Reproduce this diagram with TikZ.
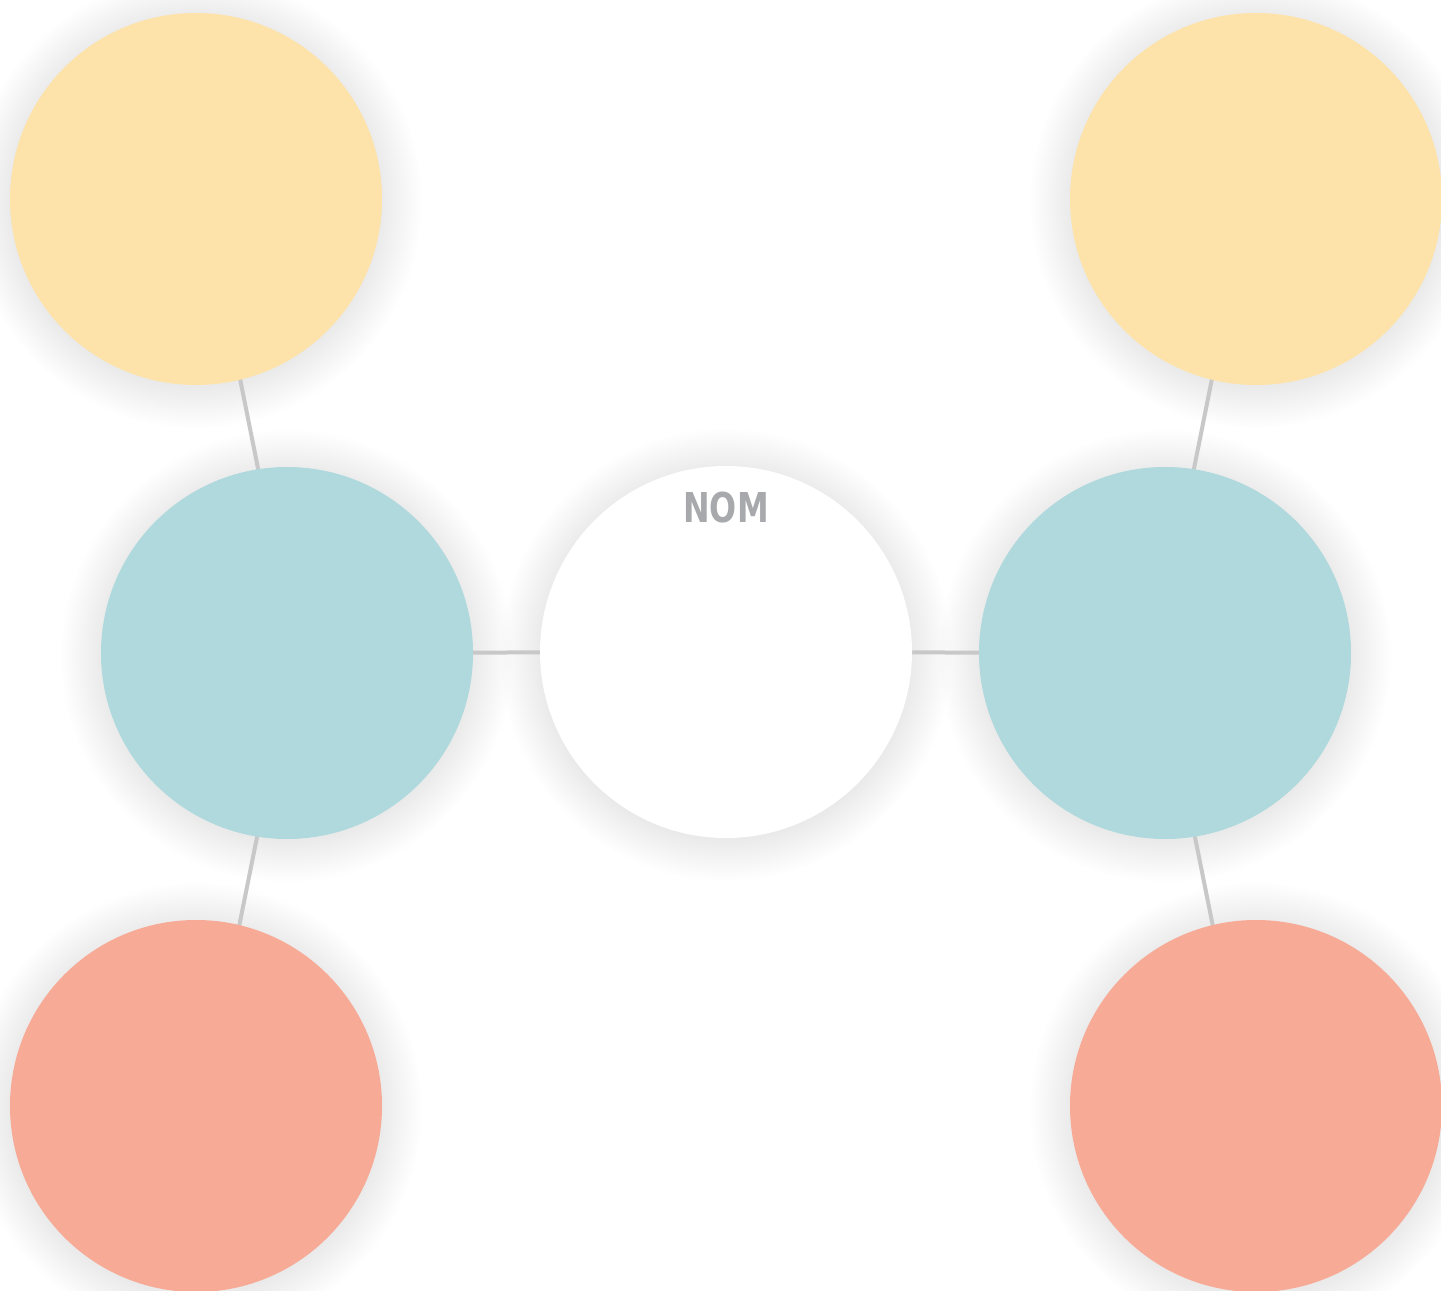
\documentclass[tikz,border=0pt]{standalone}
\usepackage{fontspec}
\newfontfamily\nomfont[FakeStretch=0.86]{DejaVu Sans Condensed}
\usetikzlibrary{calc}
\definecolor{cyellow}{HTML}{FDE3A9}
\definecolor{cteal}{HTML}{AFD9DC}
\definecolor{csalmon}{HTML}{F7AA95}
\definecolor{cline}{HTML}{C8C8C8}
\definecolor{ctext}{HTML}{A7A9AC}
\tikzset{
  bubble/.style={circle, minimum size=3.72cm, inner sep=0pt, draw=none},
  link/.style={draw=cline, line width=0.04cm},
}
\newcommand{\softshadow}[1]{%
  \foreach \k in {0.40,0.38,...,0.0}{%
    \fill[black, opacity=0.0055] ($(#1)+(0,-0.03)$) circle[radius=1.86cm+\k cm];
  }%
}
\begin{document}
\begin{tikzpicture}[x=1cm,y=1cm]
\useasboundingbox[fill=white] (0,0) rectangle (14.41,-12.91);
\coordinate (pTL) at (1.96,-1.99);
\coordinate (pTR) at (12.56,-1.99);
\coordinate (pL) at (2.87,-6.53);
\coordinate (pC) at (7.26,-6.52);
\coordinate (pR) at (11.65,-6.53);
\coordinate (pBL) at (1.96,-11.06);
\coordinate (pBR) at (12.56,-11.06);
\foreach \p in {pTL,pTR,pL,pC,pR,pBL,pBR}{\softshadow{\p}}
\node[bubble] (tl) at (pTL) {};
\node[bubble] (tr) at (pTR) {};
\node[bubble] (l) at (pL) {};
\node[bubble] (c) at (pC) {};
\node[bubble] (r) at (pR) {};
\node[bubble] (bl) at (pBL) {};
\node[bubble] (br) at (pBR) {};
\draw[link] ([xshift=0.08cm]l.center) -- ([xshift=0.08cm]tl.center);
\draw[link] ([xshift=0.07cm]l.center) -- ([xshift=0.07cm]bl.center);
\draw[link] (l.center) -- (c.center);
\draw[link] (c.center) -- (r.center);
\draw[link] ([xshift=-0.08cm]r.center) -- ([xshift=-0.08cm]tr.center);
\draw[link] ([xshift=-0.07cm]r.center) -- ([xshift=-0.07cm]br.center);
\fill[cyellow] (tl) circle[radius=1.86];
\fill[cyellow] (tr) circle[radius=1.86];
\fill[cteal] (l) circle[radius=1.86];
\fill[white] (c) circle[radius=1.86];
\fill[cteal] (r) circle[radius=1.86];
\fill[csalmon] (bl) circle[radius=1.86];
\fill[csalmon] (br) circle[radius=1.86];
\node[text=ctext, font=\nomfont\bfseries\fontsize{11.7}{14}\selectfont, inner sep=0pt] (nom) at (7.26,-5.08) {NOM};
\end{tikzpicture}
\end{document}
